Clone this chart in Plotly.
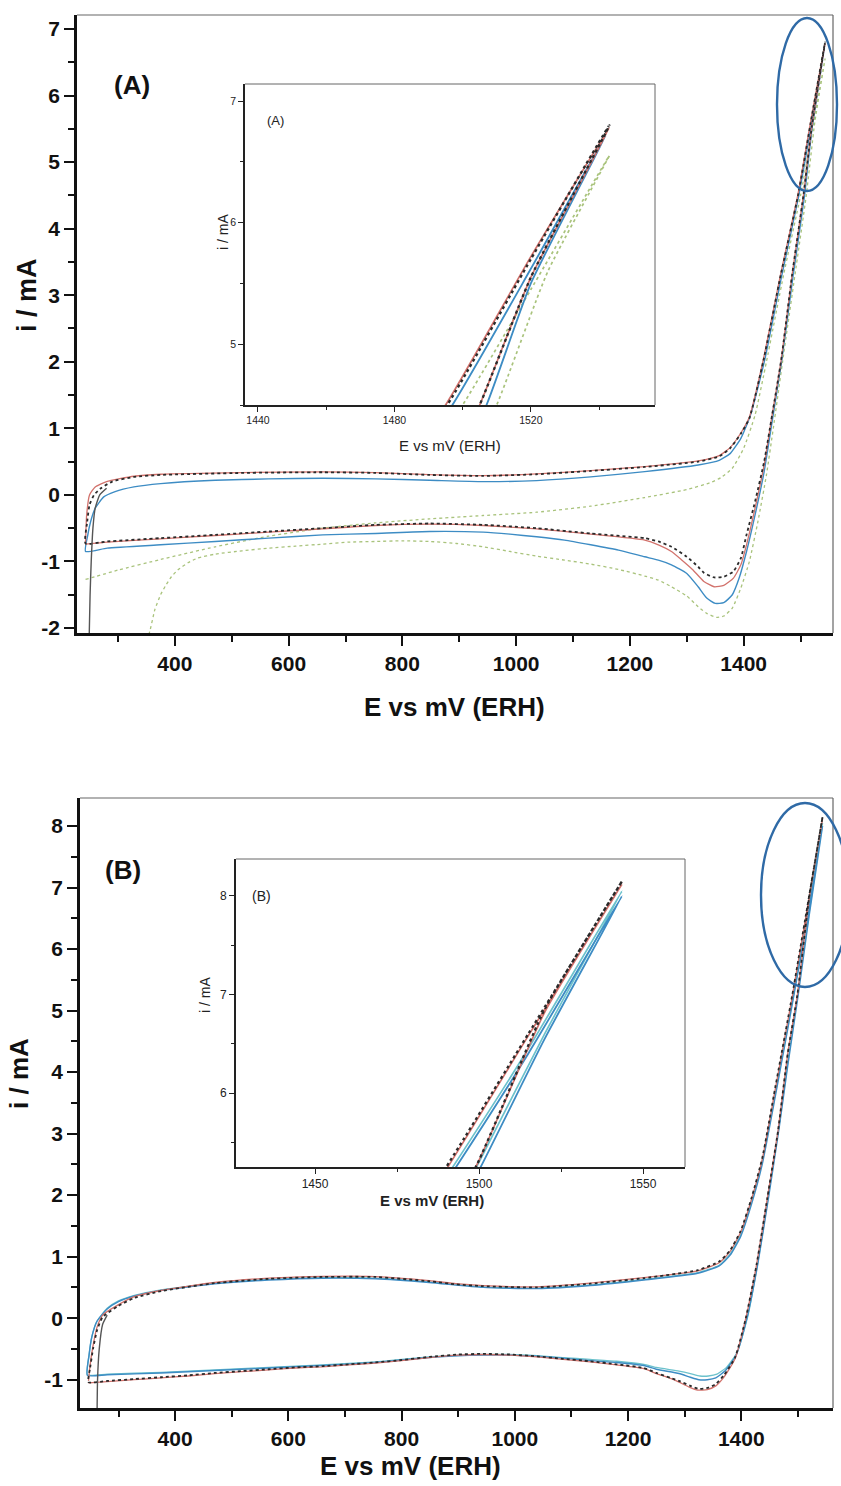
import plotly.graph_objects as go

W, H = 841, 1486

# ---------------- Panel A : voltammograms (E in mV vs ERH, i in mA) ----------------
A_black_E = [243, 246, 250, 258, 270, 290, 328, 375, 517, 660, 753, 848, 942, 1036, 1131, 1226, 1320, 1357,
             1376, 1395, 1410, 1435, 1465, 1495.5, 1520, 1543,
             1520, 1505, 1485, 1466, 1450, 1436, 1420, 1405, 1395, 1382, 1365, 1348, 1330, 1320, 1300, 1273,
             1250, 1226, 1131, 1036, 942, 848, 753, 660, 565, 471, 375, 281, 243]
A_black_i = [-0.73, -0.4, -0.15, 0.0, 0.1, 0.2, 0.27, 0.30, 0.33, 0.34, 0.33, 0.30, 0.285, 0.31, 0.36, 0.42, 0.5, 0.58,
             0.70, 0.92, 1.15, 2.03, 3.3, 4.5, 5.7, 6.8,
             5.55, 4.5, 3.3, 2.03, 1.2, 0.5, -0.1, -0.6, -0.95, -1.15, -1.23, -1.24, -1.17, -1.08, -0.93, -0.78,
             -0.70, -0.65, -0.58, -0.50, -0.45, -0.43, -0.45, -0.50, -0.55, -0.60, -0.65, -0.70, -0.73]

A_init_E = [249, 251, 253, 256, 260, 268, 280]
A_init_i = [-2.3, -1.5, -1.0, -0.5, -0.2, 0.0, 0.1]

A_red_E = [243, 245, 250, 260, 280, 328, 375, 517, 660, 753, 848, 942, 1036, 1131, 1226, 1320, 1357,
           1376, 1395, 1410, 1435, 1465, 1495, 1520, 1543,
           1520, 1505, 1485, 1466, 1450, 1436, 1420, 1405, 1395, 1382, 1365, 1348, 1330, 1310, 1290, 1273,
           1250, 1226, 1131, 1036, 942, 848, 753, 660, 565, 471, 375, 281, 243]
A_red_i = [-0.72, -0.3, 0.0, 0.12, 0.2, 0.28, 0.31, 0.335, 0.345, 0.335, 0.305, 0.29, 0.315, 0.365, 0.425, 0.51, 0.59,
           0.71, 0.93, 1.17, 2.05, 3.32, 4.5, 5.72, 6.78,
           5.55, 4.5, 3.3, 2.03, 1.2, 0.45, -0.2, -0.75, -1.05, -1.25, -1.36, -1.38, -1.3, -1.12, -0.97, -0.85,
           -0.75, -0.68, -0.59, -0.51, -0.46, -0.44, -0.46, -0.51, -0.56, -0.61, -0.66, -0.71, -0.74]

A_blue_E = [243, 247, 252, 260, 275, 295, 328, 375, 471, 565, 660, 753, 848, 942, 1036, 1131, 1226, 1320, 1357,
            1376, 1395, 1412, 1437, 1467, 1497, 1520, 1542,
            1520, 1507, 1487, 1467, 1450, 1436, 1420, 1405, 1392, 1380, 1365, 1350, 1335, 1320, 1300, 1273,
            1250, 1226, 1180, 1131, 1085, 1036, 989, 942, 848, 753, 660, 565, 471, 375, 281, 243]
A_blue_i = [-0.85, -0.6, -0.4, -0.2, -0.03, 0.05, 0.12, 0.17, 0.22, 0.24, 0.25, 0.24, 0.22, 0.20, 0.215, 0.27, 0.35, 0.45, 0.52,
            0.62, 0.85, 1.2, 2.03, 3.3, 4.5, 5.62, 6.72,
            5.5, 4.5, 3.3, 2.03, 1.1, 0.35, -0.3, -0.85, -1.25, -1.5, -1.62, -1.63, -1.55, -1.38, -1.18, -1.05,
            -0.98, -0.93, -0.83, -0.75, -0.68, -0.63, -0.59, -0.56, -0.55, -0.58, -0.60, -0.65, -0.70, -0.75, -0.80, -0.85]

A_green_E = [243, 300, 375, 471, 565, 660, 753, 848, 942, 1036, 1131, 1226, 1300, 1340, 1360,
             1380, 1400, 1420, 1440, 1470, 1500, 1520, 1543,
             1525, 1510, 1490, 1470, 1452, 1440, 1425, 1410, 1395, 1380, 1365, 1352, 1335, 1320, 1300, 1273,
             1250, 1226, 1180, 1131, 1085, 1036, 989, 942, 895, 848, 800, 753, 705, 660, 612, 565, 518, 471,
             440, 423, 405, 394, 384, 375, 365, 356, 350]
A_green_i = [-1.27, -1.13, -0.97, -0.78, -0.62, -0.50, -0.42, -0.36, -0.31, -0.26, -0.17, -0.04, 0.08, 0.18, 0.26,
             0.40, 0.70, 1.2, 2.0, 3.3, 4.5, 5.45, 6.55,
             5.6, 4.5, 3.3, 2.1, 1.0, 0.3, -0.4, -1.0, -1.4, -1.7, -1.82, -1.84, -1.78, -1.68, -1.52, -1.38,
             -1.28, -1.22, -1.12, -1.04, -0.98, -0.92, -0.85, -0.78, -0.73, -0.70, -0.69, -0.70, -0.71, -0.74, -0.77, -0.80, -0.84, -0.89,
             -0.95, -1.02, -1.13, -1.23, -1.36, -1.5, -1.72, -2.05, -2.2]

# ---------------- Panel B ----------------
B_black_E = [247, 250, 255, 262, 272, 300, 328, 375, 470, 565, 660, 754, 849, 896, 944, 1039, 1133, 1228, 1323, 1361,
             1380, 1399, 1418, 1437, 1460, 1490, 1515, 1543.6,
             1520, 1499, 1482, 1465, 1446, 1427, 1408, 1389, 1370, 1355, 1342, 1325, 1310, 1290, 1275, 1250, 1228,
             1180, 1133, 1085, 1039, 990, 944, 900, 849, 800, 754, 707, 660, 612, 565, 518, 470, 423, 375, 328, 280, 247]
B_black_i = [-1.04, -0.8, -0.5, -0.2, 0.02, 0.2, 0.33, 0.44, 0.57, 0.64, 0.67, 0.67, 0.60, 0.55, 0.52, 0.50, 0.56, 0.65, 0.78, 0.92,
             1.1, 1.42, 1.95, 2.6, 3.75, 5.25, 6.6, 8.15,
             6.85, 5.25, 4.3, 3.05, 1.95, 0.87, 0.0, -0.64, -0.92, -1.07, -1.13, -1.15, -1.1, -1.02, -0.97, -0.89, -0.81,
             -0.75, -0.70, -0.66, -0.62, -0.59, -0.58, -0.59, -0.63, -0.68, -0.72, -0.75, -0.78, -0.80, -0.83, -0.86, -0.89, -0.93, -0.96, -0.99, -1.02, -1.04]

B_init_E = [262, 263, 266, 272, 280]
B_init_i = [-1.7, -1.0, -0.5, -0.1, 0.05]

B_red_E = [247, 250, 255, 262, 272, 300, 328, 375, 470, 565, 660, 754, 849, 896, 944, 1039, 1133, 1228, 1323, 1361,
           1380, 1399, 1418, 1437, 1460, 1490.5, 1515, 1543.6,
           1520, 1499, 1482, 1465, 1446, 1427, 1408, 1389, 1370, 1355, 1340, 1323, 1308, 1290, 1275, 1250, 1228,
           1180, 1133, 1085, 1039, 990, 944, 900, 849, 800, 754, 707, 660, 612, 565, 518, 470, 423, 375, 328, 280, 247]
B_red_i = [-1.02, -0.75, -0.45, -0.15, 0.05, 0.22, 0.35, 0.45, 0.58, 0.65, 0.68, 0.675, 0.61, 0.56, 0.53, 0.51, 0.57, 0.66, 0.77, 0.9,
           1.08, 1.4, 1.93, 2.58, 3.72, 5.25, 6.58, 8.12,
           6.82, 5.25, 4.3, 3.05, 1.95, 0.87, 0.0, -0.66, -0.95, -1.1, -1.16, -1.17, -1.12, -1.04, -0.98, -0.9, -0.82,
           -0.76, -0.71, -0.67, -0.63, -0.6, -0.59, -0.6, -0.64, -0.69, -0.73, -0.76, -0.79, -0.81, -0.84, -0.87, -0.9, -0.94, -0.97, -1.0, -1.03, -1.05]

B_blue_E = [245, 248, 253, 262, 280, 300, 328, 375, 470, 565, 660, 754, 849, 944, 1039, 1133, 1228, 1323, 1361,
            1380, 1399, 1418, 1437, 1460, 1493, 1515, 1543.6,
            1520, 1500.5, 1482, 1467, 1448, 1429, 1410, 1391, 1372, 1355, 1340, 1325, 1310, 1290, 1250, 1228,
            1180, 1133, 1085, 1039, 990, 944, 900, 849, 800, 754, 660, 565, 470, 375, 280, 245]
B_blue_i = [-0.93, -0.6, -0.3, -0.05, 0.15, 0.27, 0.36, 0.45, 0.56, 0.62, 0.65, 0.64, 0.58, 0.50, 0.48, 0.53, 0.62, 0.73, 0.85,
            1.02, 1.33, 1.85, 2.5, 3.6, 5.25, 6.4, 8.0,
            6.55, 5.25, 4.1, 3.1, 1.95, 0.87, 0.0, -0.6, -0.85, -0.97, -1.0, -1.0, -0.96, -0.9, -0.83, -0.77,
            -0.72, -0.69, -0.65, -0.62, -0.6, -0.6, -0.61, -0.64, -0.68, -0.72, -0.77, -0.81, -0.85, -0.89, -0.92, -0.93]

B_cyan_E = [245, 248, 253, 262, 280, 300, 328, 375, 470, 565, 660, 754, 849, 944, 1039, 1133, 1228, 1323, 1361,
            1380, 1399, 1418, 1437, 1460, 1492, 1515, 1543.6,
            1520, 1500, 1482, 1467, 1448, 1430, 1412, 1393, 1374, 1357, 1342, 1327, 1310, 1290, 1250, 1228,
            1180, 1133, 1085, 1039, 990, 944, 900, 849, 800, 754, 660, 565, 470, 375, 280, 245]
B_cyan_i = [-0.92, -0.6, -0.3, -0.05, 0.16, 0.28, 0.37, 0.46, 0.57, 0.63, 0.66, 0.65, 0.59, 0.51, 0.49, 0.54, 0.63, 0.74, 0.86,
            1.04, 1.36, 1.9, 2.55, 3.65, 5.25, 6.45, 8.05,
            6.6, 5.3, 4.15, 3.15, 2.0, 0.95, 0.05, -0.55, -0.8, -0.91, -0.94, -0.94, -0.9, -0.86, -0.8, -0.75,
            -0.7, -0.67, -0.64, -0.61, -0.59, -0.59, -0.6, -0.63, -0.67, -0.71, -0.76, -0.8, -0.84, -0.88, -0.91, -0.92]

# tick values and labels (plain hyphen for negatives)
E_ticks = [400, 600, 800, 1000, 1200, 1400]
A_yticks = [-2, -1, 0, 1, 2, 3, 4, 5, 6, 7]
B_yticks = [-1, 0, 1, 2, 3, 4, 5, 6, 7, 8]
A_in_xticks = [1440, 1480, 1520]
A_in_yticks = [5, 6, 7]
B_in_xticks = [1450, 1500, 1550]
B_in_yticks = [6, 7, 8]

BLACK = "#2a2a2a"
RED = "#d2726c"
BLUE = "#3d8cc4"
GREEN = "#a9c37c"
CYAN = "#6cc2cc"

panelA = [
    (A_green_E, A_green_i, GREEN, "dot", 1.3),
    (A_blue_E, A_blue_i, BLUE, "solid", 1.4),
    (A_red_E, A_red_i, RED, "solid", 1.3),
    (A_black_E, A_black_i, BLACK, "dot", 1.8),
    (A_init_E, A_init_i, "#555555", "solid", 1.4),
]
panelB = [
    (B_cyan_E, B_cyan_i, CYAN, "solid", 1.3),
    (B_blue_E, B_blue_i, BLUE, "solid", 1.4),
    (B_red_E, B_red_i, RED, "solid", 1.3),
    (B_black_E, B_black_i, BLACK, "dot", 1.8),
    (B_init_E, B_init_i, "#555555", "solid", 1.4),
]

fig = go.Figure()


def add_panel(series, xa, ya, width_scale=1.0):
    for E, i, col, dash, w in series:
        fig.add_trace(go.Scatter(
            x=E, y=i, mode="lines", xaxis=xa, yaxis=ya, showlegend=False,
            line=dict(color=col, dash=dash, width=w * width_scale, shape="spline", smoothing=0.5),
            hoverinfo="skip"))


add_panel(panelA, "x", "y")
add_panel(panelA, "x2", "y2", 1.3)
add_panel(panelB, "x3", "y3")
add_panel(panelB, "x4", "y4", 1.3)


def px_x(p):
    return p / W


def px_y(p):
    return 1 - p / H


FONT = "Liberation Sans, Arial, sans-serif"


def labels(vals):
    return [str(v) for v in vals]


def main_axis(domain, rng, tickvals, minor_dtick):
    return dict(
        domain=domain, range=rng, tickmode="array", tickvals=tickvals, ticktext=labels(tickvals),
        ticks="outside", ticklen=10, tickwidth=2.2, tickcolor="#111",
        showline=True, linewidth=2.6, linecolor="#111", mirror=False,
        showgrid=False, zeroline=False,
        tickfont=dict(family=FONT, size=21, color="#111", weight="bold"),
        minor=dict(tickmode="linear", tick0=0, dtick=minor_dtick, ticks="outside", ticklen=6, tickwidth=2,
                   tickcolor="#111", showgrid=False),
        automargin=False, fixedrange=True,
    )


def inset_axis(domain, rng, tickvals, minor_dtick, fsize):
    return dict(
        domain=domain, range=rng, tickmode="array", tickvals=tickvals, ticktext=labels(tickvals),
        ticks="outside", ticklen=5, tickwidth=1.3, tickcolor="#222",
        showline=True, linewidth=1.6, linecolor="#222", mirror=False,
        showgrid=False, zeroline=False,
        tickfont=dict(family=FONT, size=fsize, color="#222"),
        minor=dict(tickmode="linear", tick0=0, dtick=minor_dtick, ticks="outside", ticklen=3, tickwidth=1.2,
                   tickcolor="#222", showgrid=False),
        automargin=False, fixedrange=True,
    )


# pixel boxes of the four plotting areas (left, top, right, bottom)
boxA = (77, 15, 833, 633)
boxAi = (245, 84, 655, 405)
boxB = (80, 798, 833, 1408)
boxBi = (236, 859, 685, 1167)


def dom(box):
    l, t, r, b = box
    return [px_x(l), px_x(r)], [px_y(b), px_y(t)]


dAx, dAy = dom(boxA)
dAix, dAiy = dom(boxAi)
dBx, dBy = dom(boxB)
dBix, dBiy = dom(boxBi)

fig.update_layout(
    width=W, height=H, margin=dict(l=0, r=0, t=0, b=0),
    paper_bgcolor="white", plot_bgcolor="rgba(0,0,0,0)",
    xaxis=dict(main_axis(dAx, [228, 1557], E_ticks, 100), anchor="y"),
    yaxis=dict(main_axis(dAy, [-2.075, 7.21], A_yticks, 0.5), anchor="x"),
    xaxis2=dict(inset_axis(dAix, [1436.2, 1556.4], A_in_xticks, 20, 10.5), anchor="y2"),
    yaxis2=dict(inset_axis(dAiy, [4.5, 7.14], A_in_yticks, 0.5, 10.5), anchor="x2"),
    xaxis3=dict(main_axis(dBx, [232, 1562], E_ticks, 100), anchor="y3"),
    yaxis3=dict(main_axis(dBy, [-1.46, 8.455], B_yticks, 0.5), anchor="x3"),
    xaxis4=dict(inset_axis(dBix, [1425.9, 1562.8], B_in_xticks, 25, 12), anchor="y4"),
    yaxis4=dict(inset_axis(dBiy, [5.25, 8.375], B_in_yticks, 0.5, 12), anchor="x4"),
)

shapes = []
# thin frame on the top and right of every plotting area
for box, col, w in [(boxA, "#666", 1.2), (boxAi, "#666", 1.0), (boxB, "#666", 1.2), (boxBi, "#666", 1.0)]:
    l, t, r, b = box
    shapes.append(dict(type="line", xref="paper", yref="paper", x0=px_x(l), x1=px_x(r), y0=px_y(t), y1=px_y(t),
                       line=dict(color=col, width=w)))
    shapes.append(dict(type="line", xref="paper", yref="paper", x0=px_x(r), x1=px_x(r), y0=px_y(t), y1=px_y(b),
                       line=dict(color=col, width=w)))
# highlighted high-potential region
for (x0, y0, x1, y1) in [(777, 18, 837, 191), (761, 803, 849, 987)]:
    shapes.append(dict(type="circle", xref="paper", yref="paper", x0=px_x(x0), x1=px_x(x1), y0=px_y(y1), y1=px_y(y0),
                       line=dict(color="#2f6aa6", width=2.4)))
fig.update_layout(shapes=shapes)


def txt(x, y, s, size, angle=0, color="#111", bold=False):
    return dict(x=px_x(x), y=px_y(y), xref="paper", yref="paper", text=s, showarrow=False, textangle=angle,
                font=dict(family=FONT, size=size, color=color, weight="bold" if bold else "normal"),
                xanchor="center", yanchor="middle")


annotations = [
    txt(132, 85, "(A)", 26, bold=True),
    txt(123, 870, "(B)", 26, bold=True),
    txt(27, 295, "i / mA", 27, -90, bold=True),
    txt(19, 1074, "i / mA", 26, -90, bold=True),
    txt(455, 707, "E vs mV (ERH)", 26, bold=True),
    txt(410, 1466, "E vs mV (ERH)", 26, bold=True),
    txt(275, 120, "(A)", 13, color="#222"),
    txt(261, 896, "(B)", 14, color="#222"),
    txt(223, 232, "i / mA", 14, -90, color="#222"),
    txt(205, 995, "i / mA", 14, -90, color="#222"),
    txt(450, 445, "E vs mV (ERH)", 15, color="#222"),
    txt(432, 1200, "E vs mV (ERH)", 15, color="#222", bold=True),
]
fig.update_layout(annotations=annotations)

fig.write_html("out.html")
